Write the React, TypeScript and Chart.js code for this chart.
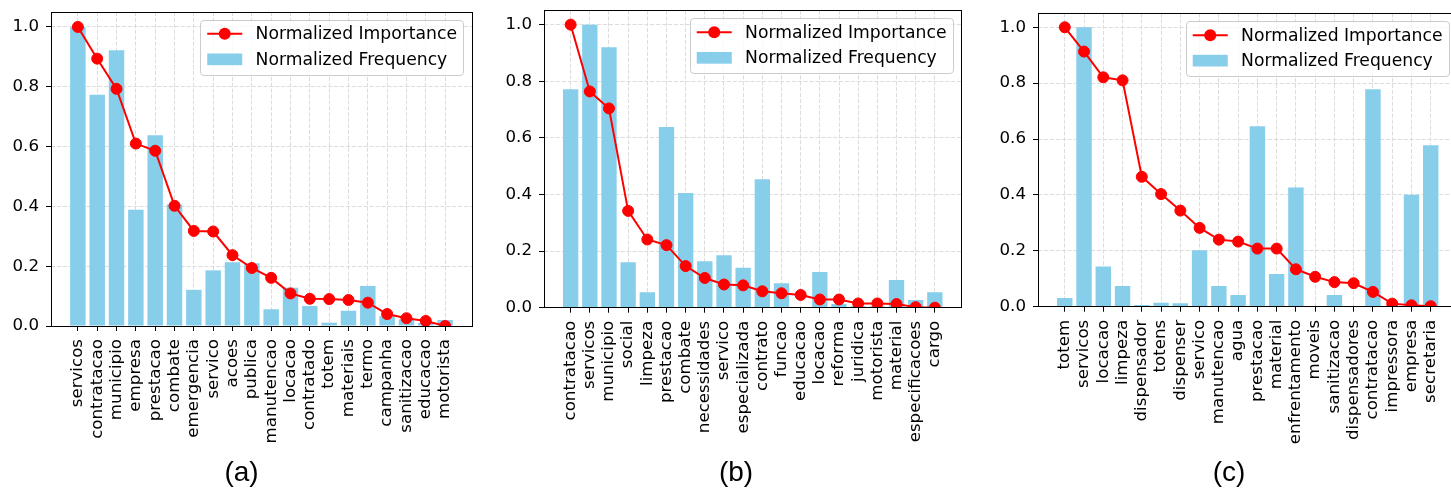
import React, { useEffect, useRef } from "react";
import { Chart, registerables } from "chart.js";

Chart.register(...registerables);

// ---------- data ----------
const labelsA = ["servicos", "contratacao", "municipio", "empresa", "prestacao", "combate", "emergencia", "servico", "acoes", "publica", "manutencao", "locacao", "contratado", "totem", "materiais", "termo", "campanha", "sanitizacao", "educacao", "motorista"];
const importanceA = [1.0, 0.894, 0.793, 0.61, 0.586, 0.402, 0.318, 0.316, 0.237, 0.194, 0.161, 0.109, 0.091, 0.09, 0.087, 0.078, 0.04, 0.026, 0.017, 0.0];
const frequencyA = [1.0, 0.773, 0.922, 0.389, 0.638, 0.406, 0.121, 0.186, 0.213, 0.21, 0.056, 0.128, 0.067, 0.011, 0.051, 0.134, 0.033, 0.022, 0.01, 0.02];

const labelsB = ["contratacao", "servicos", "municipio", "social", "limpeza", "prestacao", "combate", "necessidades", "servico", "especializada", "contrato", "funcao", "educacao", "locacao", "reforma", "juridica", "motorista", "material", "especificacoes", "cargo"];
const importanceB = [1.0, 0.764, 0.704, 0.342, 0.241, 0.221, 0.147, 0.105, 0.082, 0.079, 0.058, 0.051, 0.045, 0.029, 0.029, 0.015, 0.015, 0.013, 0.002, 0.0];
const frequencyB = [0.772, 1.0, 0.92, 0.161, 0.055, 0.638, 0.405, 0.164, 0.185, 0.141, 0.454, 0.086, 0.0, 0.126, 0.013, 0.005, 0.005, 0.098, 0.027, 0.055];

const labelsC = ["totem", "servicos", "locacao", "limpeza", "dispensador", "totens", "dispenser", "servico", "manutencao", "agua", "prestacao", "material", "enfrentamento", "moveis", "sanitizacao", "dispensadores", "contratacao", "impressora", "empresa", "secretaria"];
const importanceC = [1.0, 0.913, 0.821, 0.81, 0.465, 0.403, 0.344, 0.282, 0.24, 0.233, 0.208, 0.208, 0.134, 0.107, 0.088, 0.084, 0.053, 0.011, 0.005, 0.002];
const frequencyC = [0.031, 1.0, 0.144, 0.074, 0.006, 0.014, 0.012, 0.202, 0.074, 0.042, 0.646, 0.117, 0.427, 0.002, 0.042, 0.002, 0.778, 0.0, 0.401, 0.578];

const yTickValues = [0, 0.2, 0.4, 0.6, 0.8, 1.0];
const legendLabels = ["Normalized Importance", "Normalized Frequency"];
const panelTitles = ["(a)", "(b)", "(c)"];

// ---------- style ----------
const FONT = "'DejaVu Sans', sans-serif";
const FS = 16.67;
const LEGEND_FS = 17.2;
const BAR_COLOR = "#87CEEB";
const LINE_COLOR = "#ff0000";
const GRID_COLOR = "#dcdcdc";
const H = 492;

type Box = { canvasLeft: number; canvasWidth: number; left: number; right: number; top: number; bottom: number; titleX: number };

const boxes: Box[] = [
  { canvasLeft: 0, canvasWidth: 484, left: 51, right: 472, top: 12, bottom: 326, titleX: 241.5 },
  { canvasLeft: 484, canvasWidth: 484, left: 544, right: 965, top: 10.5, bottom: 307.7, titleX: 736 },
  { canvasLeft: 968, canvasWidth: 500, left: 1038, right: 1457.5, top: 13.3, bottom: 306.7, titleX: 1229 },
];

const align = (p: number) => Math.round(p - 0.5) + 0.5;

const frameLegendPlugin = {
  id: "frameLegend",
  afterDatasetsDraw(chart: any) {
    const { ctx, chartArea: a } = chart;
    ctx.save();
    ctx.strokeStyle = "#000";
    ctx.lineWidth = 1;
    const l = align(a.left), r = align(a.right), t = align(a.top), b = align(a.bottom);
    ctx.strokeRect(l, t, r - l, b - t);
    ctx.restore();
  },
  afterDraw(chart: any) {
    const { ctx, chartArea: a } = chart;
    const ds = chart.data.datasets;
    ctx.save();
    ctx.font = `${LEGEND_FS}px ${FONT}`;
    const textW = Math.max(...ds.map((d: any) => ctx.measureText(d.label).width));
    const pad = 0.4 * FS, hl = 2.1 * FS, htp = 0.8 * FS, bap = 0.5 * FS;
    const w = 2 * pad + hl + htp + textW;
    const h = 55;
    const x0 = a.right - bap - w;
    const y0 = a.top + bap;
    ctx.beginPath();
    (ctx as any).roundRect(align(x0), align(y0), Math.round(w), Math.round(h), 3.5);
    ctx.fillStyle = "rgba(255,255,255,0.8)";
    ctx.fill();
    ctx.strokeStyle = "#cccccc";
    ctx.lineWidth = 1;
    ctx.stroke();
    const rows = [y0 + 13.5, y0 + 39];
    // line handle
    const lineDs = ds[0];
    ctx.strokeStyle = lineDs.borderColor;
    ctx.lineWidth = 2;
    ctx.beginPath();
    ctx.moveTo(x0 + pad, rows[0]);
    ctx.lineTo(x0 + pad + hl, rows[0]);
    ctx.stroke();
    ctx.fillStyle = lineDs.borderColor;
    ctx.beginPath();
    ctx.arc(x0 + pad + hl / 2, rows[0], 6, 0, Math.PI * 2);
    ctx.fill();
    // bar handle
    ctx.fillStyle = ds[1].backgroundColor;
    ctx.fillRect(x0 + pad, rows[1] - 0.35 * FS, hl, 0.7 * FS);
    // text
    ctx.fillStyle = "#000";
    ctx.textBaseline = "middle";
    ctx.textAlign = "left";
    ds.forEach((d: any, i: number) => {
      ctx.fillText(d.label, x0 + pad + hl + htp, rows[i] + 1);
    });
    ctx.restore();
  },
};

function Panel({ labels, importance, frequency, box }: { labels: string[]; importance: number[]; frequency: number[]; box: Box }) {
  const ref = useRef<HTMLCanvasElement>(null);
  useEffect(() => {
    if (!ref.current) return;
    const n = labels.length;
    const margin = 0.4 + 0.05 * (n - 1 + 0.8);
    const font = { family: FONT, size: FS };
    const chart = new Chart(ref.current, {
      type: "bar",
      data: {
        datasets: [
          {
            type: "line",
            label: legendLabels[0],
            data: importance.map((y, i) => ({ x: i, y })),
            borderColor: LINE_COLOR,
            backgroundColor: LINE_COLOR,
            borderWidth: 2,
            pointRadius: 5.5,
            pointBorderWidth: 1,
            pointBackgroundColor: LINE_COLOR,
            pointBorderColor: LINE_COLOR,
            tension: 0,
            clip: 0,
            order: 0,
          } as any,
          {
            type: "bar",
            label: legendLabels[1],
            data: frequency.map((y, i) => ({ x: i, y })),
            backgroundColor: BAR_COLOR,
            borderWidth: 0,
            barPercentage: 0.8,
            categoryPercentage: 1,
            order: 1,
          } as any,
        ],
      },
      options: {
        responsive: false,
        animation: false,
        events: [],
        layout: { padding: { left: 0, top: box.top, right: box.canvasLeft + box.canvasWidth - box.right, bottom: 0 } },
        plugins: { legend: { display: false }, tooltip: { enabled: false } },
        scales: {
          x: {
            type: "linear",
            position: "bottom",
            min: -margin,
            max: n - 1 + margin,
            offset: false,
            grid: {
              offset: false,
              color: GRID_COLOR,
              lineWidth: 1,
              drawTicks: true,
              tickLength: 5,
              tickColor: "#000",
              tickWidth: 1,
              tickBorderDash: [],
            } as any,
            border: { display: false, dash: [4.1, 1.8] },
            ticks: {
              autoSkip: false,
              minRotation: 90,
              maxRotation: 90,
              padding: 8,
              color: "#000",
              font,
              callback: (_v: any, i: number) => labels[i],
            },
            afterBuildTicks: (scale: any) => {
              scale.ticks = labels.map((_, i) => ({ value: i }));
            },
            afterFit: (scale: any) => {
              scale.height = H - box.bottom;
              scale.paddingLeft = 0;
              scale.paddingRight = 0;
            },
          } as any,
          y: {
            type: "linear",
            position: "left",
            min: 0,
            max: 1.05,
            grid: {
              color: GRID_COLOR,
              lineWidth: 1,
              drawTicks: true,
              tickLength: 5,
              tickColor: "#000",
              tickWidth: 1,
              tickBorderDash: [],
            } as any,
            border: { display: false, dash: [4.1, 1.8] },
            ticks: {
              padding: 7,
              color: "#000",
              font,
              callback: (v: any) => Number(v).toFixed(1),
            },
            afterBuildTicks: (scale: any) => {
              scale.ticks = yTickValues.map((v) => ({ value: v }));
            },
            afterFit: (scale: any) => {
              scale.width = box.left - box.canvasLeft;
              scale.paddingTop = 0;
              scale.paddingBottom = 0;
            },
          } as any,
        },
      },
      plugins: [frameLegendPlugin],
    });
    return () => chart.destroy();
  }, []);
  return (
    <canvas
      ref={ref}
      width={box.canvasWidth}
      height={H}
      style={{ position: "absolute", left: box.canvasLeft, top: 0, width: box.canvasWidth, height: H }}
    />
  );
}

export default function App() {
  const panels = [
    { labels: labelsA, importance: importanceA, frequency: frequencyA },
    { labels: labelsB, importance: importanceB, frequency: frequencyB },
    { labels: labelsC, importance: importanceC, frequency: frequencyC },
  ];
  return (
    <div style={{ position: "absolute", left: 0, top: 0, width: 1451, height: H, overflow: "hidden", background: "#fff" }}>
      {panels.map((p, i) => (
        <Panel key={i} {...p} box={boxes[i]} />
      ))}
      {panelTitles.map((t, i) => (
        <div
          key={t}
          style={{
            position: "absolute",
            left: boxes[i].titleX,
            top: 458,
            transform: "translateX(-50%)",
            fontFamily: "'Liberation Sans', Arial, sans-serif",
            fontSize: 28,
            lineHeight: "28px",
            color: "#000",
            whiteSpace: "nowrap",
          }}
        >
          {t}
        </div>
      ))}
    </div>
  );
}
